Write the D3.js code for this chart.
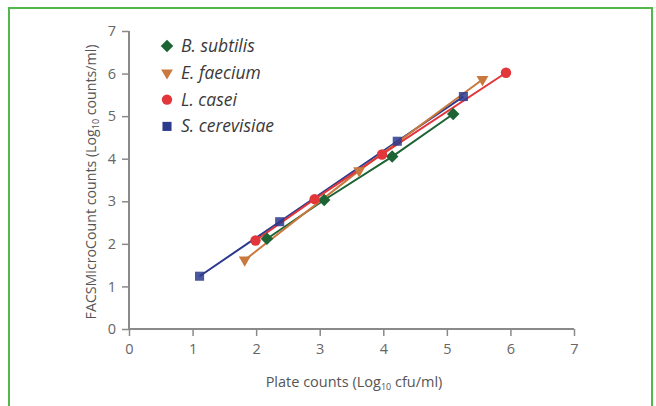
<!DOCTYPE html>
<html>
<head>
<meta charset="utf-8">
<script src="https://cdn.jsdelivr.net/npm/d3@7"></script>
<style>
  body { margin: 0; background: #fff; }
  svg { display: block; font-family: "Open Sans", "Noto Sans", sans-serif; }
</style>
</head>
<body>
<svg id="chart" width="656" height="406"></svg>
<script>
// data (log10 values)
const seriesNames = ["B. subtilis", "E. faecium", "L. casei", "S. cerevisiae"];
const bSubtilis = [[2.17, 2.12], [3.07, 3.03], [4.14, 4.05], [5.1, 5.05]];
const eFaecium = [[1.82, 1.62], [3.62, 3.72], [5.56, 5.86]];
const lCasei = [[1.99, 2.08], [2.92, 3.05], [3.98, 4.1], [5.93, 6.02]];
const sCerevisiae = [[1.11, 1.24], [2.37, 2.52], [4.22, 4.41], [5.26, 5.46]];
const xTicks = [0, 1, 2, 3, 4, 5, 6, 7];
const yTicks = [0, 1, 2, 3, 4, 5, 6, 7];

const colors = {
  "B. subtilis": "#1d6334",
  "E. faecium": "#c9783e",
  "L. casei": "#e2363a",
  "S. cerevisiae": "#2c3a8e",
};
const symbols = {
  "B. subtilis": d3.symbolDiamond2,
  "E. faecium": d3.symbolTriangle2,
  "L. casei": d3.symbolCircle,
  "S. cerevisiae": d3.symbolSquare2,
};
const symSize = {
  "B. subtilis": 100,
  "E. faecium": 100,
  "L. casei": 85,
  "S. cerevisiae": 105,
};
const rotate = { "E. faecium": 180 };

const svg = d3.select("#chart");

// green frame
svg.append("rect")
  .attr("x", 9).attr("y", 8)
  .attr("width", 643).attr("height", 420)
  .attr("fill", "none")
  .attr("stroke", "#52b84a")
  .attr("stroke-width", 2);

const xScale = d3.scaleLinear().domain([0, 7]).range([129, 574]);
const yScale = d3.scaleLinear().domain([0, 7]).range([329, 31]);

const axisColor = "#8a8a8a";

const xAxis = svg.append("g")
  .attr("transform", `translate(0,${yScale(0)})`)
  .call(d3.axisBottom(xScale).tickValues(xTicks).tickSize(7).tickPadding(8).tickFormat(d3.format("d")));
const yAxis = svg.append("g")
  .attr("transform", `translate(${xScale(0)},0)`)
  .call(d3.axisLeft(yScale).tickValues(yTicks).tickSize(7).tickPadding(6).tickFormat(d3.format("d")));

[xAxis, yAxis].forEach((g) => {
  g.select(".domain").attr("stroke", axisColor).attr("stroke-width", 2);
  g.selectAll(".tick line").attr("stroke", axisColor).attr("stroke-width", 1.5);
  g.selectAll(".tick text")
    .attr("fill", "#666")
    .attr("font-size", 14.5)
    .attr("font-family", "Open Sans, sans-serif");
});
// flat ends on axis domains (no outer tick cap)
xAxis.select(".domain").attr("d", `M${xScale(0)},0H${xScale(7)}`);
yAxis.select(".domain").attr("d", `M0,${yScale(0)}V${yScale(7)}`);

// axis titles
const yTitle = svg.append("text")
  .attr("transform", `translate(96,${(yScale(0) + yScale(7)) / 2 + 2}) rotate(-90)`)
  .attr("text-anchor", "middle")
  .attr("font-size", 14.2)
  .attr("fill", "#555");
yTitle.append("tspan").text("FACSMicroCount counts (Log");
yTitle.append("tspan").attr("font-size", 9).attr("dy", 3).text("10");
yTitle.append("tspan").attr("dy", -3).text(" counts/ml)");

const xTitle = svg.append("text")
  .attr("x", 354).attr("y", 387)
  .attr("text-anchor", "middle")
  .attr("font-size", 14.5)
  .attr("fill", "#555");
xTitle.append("tspan").text("Plate counts (Log");
xTitle.append("tspan").attr("font-size", 9).attr("dy", 3).text("10");
xTitle.append("tspan").attr("dy", -3).text(" cfu/ml)");

// series, drawn so that L. casei line sits on top like the figure
const drawOrder = [
  ["S. cerevisiae", sCerevisiae],
  ["B. subtilis", bSubtilis],
  ["E. faecium", eFaecium],
  ["L. casei", lCasei],
];

const line = d3.line()
  .x((d) => xScale(d[0]))
  .y((d) => yScale(d[1]));

drawOrder.forEach(([name, pts]) => {
  svg.append("path")
    .datum(pts)
    .attr("fill", "none")
    .attr("stroke", colors[name])
    .attr("stroke-width", 2)
    .attr("d", line);
});

drawOrder.forEach(([name, pts]) => {
  svg.append("g")
    .selectAll("path")
    .data(pts)
    .join("path")
    .attr("d", d3.symbol().type(symbols[name]).size(symSize[name]))
    .attr("transform", (d) => `translate(${xScale(d[0])},${yScale(d[1])}) rotate(${rotate[name] || 0})`)
    .attr("fill", colors[name])
    .attr("fill-opacity", name === "S. cerevisiae" ? 0.85 : 1);
});

// legend
const legend = svg.append("g").attr("transform", "translate(167,46)");
const rows = legend.selectAll("g")
  .data(seriesNames)
  .join("g")
  .attr("transform", (d, i) => `translate(0,${i * 26.8})`);
rows.append("path")
  .attr("d", (d) => d3.symbol().type(symbols[d]).size(symSize[d])())
  .attr("transform", (d) => `rotate(${rotate[d] || 0})`)
  .attr("fill", (d) => colors[d]);
rows.append("text")
  .attr("x", 14)
  .attr("y", 6)
  .attr("font-size", 17.5)
  .attr("font-style", "italic")
  .attr("fill", "#3a3a3a")
  .text((d) => d);
</script>
</body>
</html>
